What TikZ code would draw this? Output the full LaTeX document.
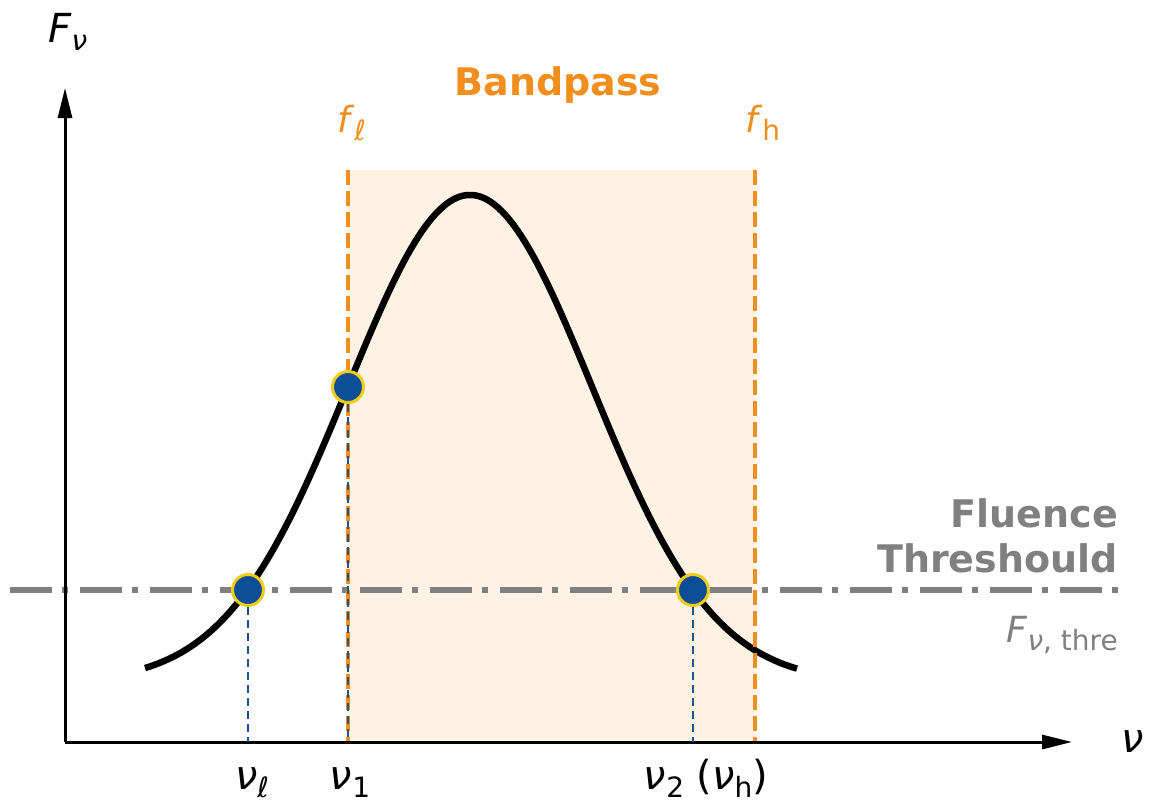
\documentclass[tikz,border=0pt]{standalone}
\usepackage{fontspec}
\setmainfont{DejaVu Sans}
\usetikzlibrary{arrows.meta}
\definecolor{bandorange}{RGB}{242,142,28}
\definecolor{bandfill}{RGB}{253,242,227}
\definecolor{threshgray}{RGB}{128,128,128}
\definecolor{dotblue}{RGB}{12,78,150}
\definecolor{dotring}{RGB}{240,205,20}
\definecolor{guideblue}{RGB}{30,85,145}
\newcommand\lsub[1]{\raisebox{-8pt}{\fontsize{28pt}{28pt}\selectfont #1}}
\tikzset{
  lab/.style={inner sep=0pt, font=\fontsize{40pt}{40pt}\selectfont},
  boldlab/.style={inner sep=0pt, font=\fontsize{38pt}{44pt}\selectfont\bfseries},
  axisline/.style={line width=3pt, -{Triangle[length=30pt,width=14pt]}},
  bandedge/.style={bandorange, line width=3.5pt, dash pattern=on 15pt off 6pt},
  guide/.style={guideblue, line width=2.5pt, dash pattern=on 8pt off 5pt},
  thresh/.style={threshgray, line width=6pt, dash pattern=on 42pt off 10pt on 6pt off 12pt},
  pt/.style={circle, fill=dotblue, draw=dotring, line width=3pt, minimum size=31pt, inner sep=0pt},
  curve/.style={line width=6.5pt, black},
}
\begin{document}
\begin{tikzpicture}[x=1pt, y=-1pt]
\useasboundingbox (0,0) rectangle (1153,807);
% bandpass region
\fill[bandfill] (348,170) rectangle (755,742);
% axes
\coordinate (O) at (65,742);
\coordinate (ytip) at (65,88);
\coordinate (xtip) at (1072,742);
% curve
\draw[curve] plot[domain=145:797, samples=200] (\x, {682-487*exp(-0.336*((\x-470)/100)^2)});
% threshold
\coordinate (thL) at (10,590);
\coordinate (thR) at (1125,590);
\draw[thresh] (thL) -- (thR);
% band edges
\coordinate (flT) at (348,170);
\coordinate (flB) at (348,742);
\coordinate (fhT) at (755,170);
\coordinate (fhB) at (755,742);
\draw[bandedge] (flT) -- (flB);
\draw[bandedge] (fhT) -- (fhB);
% axes lines
\draw[axisline] (O) -- (ytip);
\draw[axisline] (O) -- (xtip);
% points
\node[pt] (pl) at (248,590) {};
\node[pt] (p1) at (348,387) {};
\node[pt] (p2) at (693,590) {};
\coordinate (al) at (248,742);
\coordinate (a1) at (348,742);
\coordinate (a2) at (693,742);
\draw[guide] (pl.south) -- (al);
\draw[guide] (p1.south) -- (a1);
\draw[guide] (p2.south) -- (a2);
% labels
\node[lab, anchor=base west] (Fnu) at (48,42) {\textit{F}\lsub{\textit{ν}}};
\node[lab, anchor=base west] (nu) at (1121,752) {\textit{ν}};
\node[boldlab, bandorange, anchor=base] (band) at (558,95) {Bandpass};
\node[lab, bandorange, anchor=base west, font=\fontsize{36pt}{36pt}\selectfont] (fl) at (337,132) {\textit{f}\lsub{\textit{ℓ}}};
\node[lab, bandorange, anchor=base west, font=\fontsize{36pt}{36pt}\selectfont] (fh) at (745,132) {\textit{f}\lsub{h}};
\node[boldlab, threshgray, anchor=base east, align=right] (flu) at (1118,527) {Fluence};
\node[boldlab, threshgray, anchor=base east] (thr) at (1118,572) {Threshould};
\node[lab, threshgray, anchor=base east, font=\fontsize{36pt}{36pt}\selectfont] (fthr) at (1118,642) {\textit{F}\lsub{\textit{ν}, thre}};
\node[lab, anchor=base] (tl) at (252,789) {\textit{ν}\lsub{\textit{ℓ}}};
\node[lab, anchor=base] (t1) at (350,789) {\textit{ν}\lsub{1}};
\node[lab, anchor=base] (t2) at (706,789) {\textit{ν}\lsub{2} (\textit{ν}\lsub{h})};
\end{tikzpicture}
\end{document}
